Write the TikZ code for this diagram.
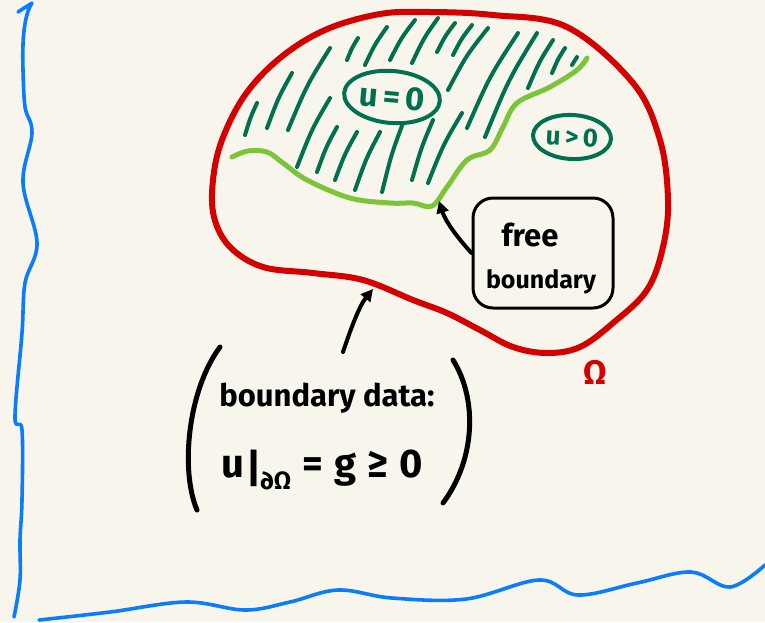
\documentclass[tikz,border=0pt]{standalone}
\usepackage{fontspec}
\setmainfont{Fira Sans}
\usetikzlibrary{arrows.meta,shapes.geometric}
\definecolor{bgc}{HTML}{F8F6EC}
\definecolor{redc}{HTML}{D40000}
\definecolor{dgreen}{HTML}{00704F}
\definecolor{lgreen}{HTML}{7CC43A}
\definecolor{bluec}{HTML}{0A7CFF}
\tikzset{
  omegaline/.style={draw=redc,line width=6pt,line join=round},
  freeline/.style={draw=lgreen,line width=5pt,line cap=round},
  hatch/.style={draw=dgreen,line width=4pt,line cap=round},
  axis/.style={draw=bluec,line width=3.6pt,line cap=round,line join=round},
  oval/.style={draw=dgreen,line width=4pt,ellipse,inner sep=0pt,text=dgreen,font=\bfseries},
  note/.style={draw=black,line width=3pt,rounded corners=20pt,inner sep=0pt},
  pointer/.style={draw=black,line width=4pt,line cap=round,-{Triangle[length=12pt,width=12pt]}},
  paren/.style={draw=black,line width=5pt,line cap=round},
  hand/.style={text=black,inner sep=0pt}
}
\begin{document}
\begin{tikzpicture}[x=1pt,y=-1pt]
\useasboundingbox (0,0) rectangle (765,622);
\fill[bgc] (0,0) rectangle (765,622);
% axes
\draw[axis] (18,12) -- (32,3) .. controls (24,15) and (22,40) .. (23,70)
  plot[smooth,tension=0.6] coordinates {(23,70) (25,107) (32,133) (23,183) (37,243) (25,283) (22,333) (15,417) (22,430) (22,500) (20,540) (20,580) (14,617)};
\draw[axis] plot[smooth,tension=0.6] coordinates {(39,620) (110,612) (186,602) (245,610) (290,602) (338,590) (392,598) (466,599) (539,580) (578,595) (637,583) (691,572) (730,587) (765,565)};
% hatching
\foreach \a/\b/\c/\d in {245/135/257/103, 267/128/292/73, 288/130/330/48, 297/167/330/98, 317/172/337/127, 335/180/357/132, 347/60/358/38, 365/65/387/27, 390/60/415/20, 412/63/438/18, 437/52/455/23, 453/55/472/25, 448/90/488/28, 355/190/380/132, 382/192/403/123, 412/180/433/120, 428/183/462/113, 467/128/518/33, 485/137/537/33, 528/88/553/40, 552/73/565/48, 572/65/577/57}
  \draw[hatch] (\a,\b) .. controls ({\a+0.45*(\c-\a)},{\b+0.55*(\d-\b)}) .. (\c,\d);
% domain
\draw[omegaline] plot[smooth cycle,tension=0.6] coordinates {(380,14) (430,12) (493,15) (567,27) (633,83) (660,140) (668,200) (663,247) (647,290) (613,323) (580,347) (547,353) (513,347) (480,330) (447,313) (413,300) (363,280) (313,273) (263,267) (230,247) (214,217) (213,180) (222,140) (245,95) (280,58) (325,30)};
% free boundary
\draw[freeline] plot[smooth,tension=0.6] coordinates {(232,157) (248,151) (267,152) (283,163) (307,180) (350,198) (390,203) (413,203) (432,206) (447,187) (467,160) (490,150) (503,127) (517,103) (550,87) (577,70) (587,58)};
\coordinate (fb) at (439,201);
% ovals
\node[oval,minimum width=96pt,minimum height=52pt,rotate=-5,font=\bfseries\fontsize{33}{35}\selectfont] (zero) at (392,97) {u\,=\,0};
\node[oval,minimum width=78pt,minimum height=44pt,rotate=-3,font=\bfseries\fontsize{26}{28}\selectfont] (pos) at (572,137) {u\,>\,0};
% free boundary note
\node[note,minimum width=140pt,minimum height=110pt] (box) at (543,253) {};
\node[hand,font=\bfseries\fontsize{31}{33}\selectfont] (free) at (530,235) {free};
\node[hand,font=\bfseries\fontsize{25}{27}\selectfont] (bd) at (541,282) {boundary};
\draw[pointer] (box.west) .. controls (455,235) and (445,220) .. (fb);
% boundary data
\coordinate (tail) at (343,352);
\coordinate (head) at (373,289);
\draw[pointer] (tail) .. controls (352,325) and (360,305) .. (head);
\draw[paren] (220,347) .. controls (188,390) and (180,470) .. (197,510);
\draw[paren] (453,360) .. controls (478,400) and (475,460) .. (443,503);
\node[hand,font=\fontsize{31}{33}\selectfont\bfseries] (data) at (327,398) {boundary data:};
\node[hand,font=\fontsize{40}{42}\selectfont\bfseries] (cond) at (322,470) {u\kern2pt\raisebox{-5pt}{|}\kern-1pt\raisebox{-12pt}{\fontsize{25}{27}\selectfont ∂Ω}\;=\;g\;≥\;0};
% Omega
\node[hand,text=redc,font=\bfseries\fontsize{34}{36}\selectfont] (om) at (595,372) {Ω};
\end{tikzpicture}
\end{document}
